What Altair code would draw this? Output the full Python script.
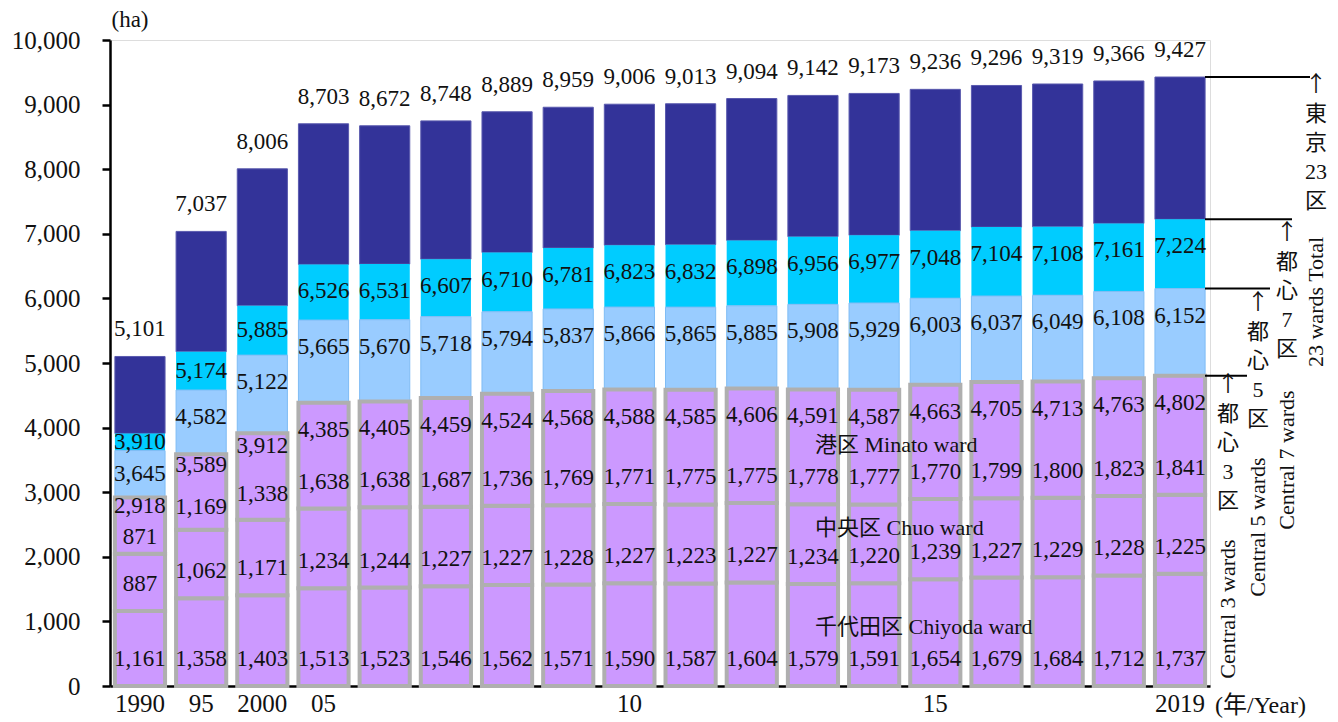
import altair as alt
import pandas as pd
import numpy as np

years = ["1990", "1995", "2000", "2005", "2006", "2007", "2008", "2009", "2010",
         "2011", "2012", "2013", "2014", "2015", "2016", "2017", "2018", "2019"]
tick_labels = ["1990", "95", "2000", "05", "", "", "", "", "10",
               "", "", "", "", "15", "", "", "", "2019"]
chiyoda = [1161, 1358, 1403, 1513, 1523, 1546, 1562, 1571, 1590, 1587, 1604, 1579, 1591, 1654, 1679, 1684, 1712, 1737]
chuo = [887, 1062, 1171, 1234, 1244, 1227, 1227, 1228, 1227, 1223, 1227, 1234, 1220, 1239, 1227, 1229, 1228, 1225]
minato = [871, 1169, 1338, 1638, 1638, 1687, 1736, 1769, 1771, 1775, 1775, 1778, 1777, 1770, 1799, 1800, 1823, 1841]
central3 = [2918, 3589, 3912, 4385, 4405, 4459, 4524, 4568, 4588, 4585, 4606, 4591, 4587, 4663, 4705, 4713, 4763, 4802]
central5 = [3645, 4582, 5122, 5665, 5670, 5718, 5794, 5837, 5866, 5865, 5885, 5908, 5929, 6003, 6037, 6049, 6108, 6152]
central7 = [3910, 5174, 5885, 6526, 6531, 6607, 6710, 6781, 6823, 6832, 6898, 6956, 6977, 7048, 7104, 7108, 7161, 7224]
total23 = [5101, 7037, 8006, 8703, 8672, 8748, 8889, 8959, 9006, 9013, 9094, 9142, 9173, 9236, 9296, 9319, 9366, 9427]

FONT = "Liberation Serif, Noto Sans CJK JP"
OFF = 418  # label inset in data units (~27px)

bar_rows = []
lab_rows = []
for i, yr in enumerate(years):
    b1 = chiyoda[i]
    b2 = chiyoda[i] + chuo[i]
    parts = [("chiyoda", 0, b1), ("chuo", b1, b2), ("minato", b2, central3[i]),
             ("c5", central3[i], central5[i]), ("c7", central5[i], central7[i]),
             ("t23", central7[i], total23[i])]
    for s, lo, hi in parts:
        bar_rows.append({"year": yr, "seg": s, "lo": lo, "hi": hi})
    big = minato[i] >= 1500
    m_off = OFF if big else 0.3 * minato[i]
    c3_off = OFF if big else 0.15 * minato[i]
    c5_off = min(OFF, 0.5 * (central5[i] - central3[i]))
    c7_off = min(OFF, 0.5 * (central7[i] - central5[i]))
    lab_rows += [
        {"year": yr, "pos": OFF, "val": chiyoda[i]},
        {"year": yr, "pos": b1 + OFF, "val": chuo[i]},
        {"year": yr, "pos": b2 + m_off, "val": minato[i]},
        {"year": yr, "pos": central3[i] - c3_off, "val": central3[i]},
        {"year": yr, "pos": central5[i] - c5_off, "val": central5[i]},
        {"year": yr, "pos": central7[i] - c7_off, "val": central7[i]},
    ]

bars_df = pd.DataFrame(bar_rows)
labs_df = pd.DataFrame(lab_rows)
tot_df = pd.DataFrame({"year": years, "val": total23})
one_df = pd.DataFrame({"k": [0]})

yr_list = ",".join("'%s'" % y for y in years)
tl_list = ",".join("'%s'" % t for t in tick_labels)
label_expr = "[%s][indexof([%s], datum.value)]" % (tl_list, yr_list)

xenc = alt.X("year:N", sort=years, title=None,
             scale=alt.Scale(paddingInner=0.18, paddingOuter=0.08),
             axis=alt.Axis(labelExpr=label_expr, labelAngle=0, ticks=False,
                           domainColor="#000000", domainWidth=2.5,
                           labelFont=FONT, labelFontSize=25, labelColor="#111111",
                           labelPadding=5))
yscale = alt.Scale(domain=[0, 10000], nice=False)
yaxis = alt.Axis(values=list(range(0, 10001, 1000)), format=",.0f", grid=False,
                 domainColor="#000000", domainWidth=2.5, tickColor="#000000",
                 tickWidth=2.5, tickSize=8, labelPadding=22,
                 labelFont=FONT, labelFontSize=25, labelColor="#111111")

def seg_layer(seg_names, fill, stroke, sw, with_axes=False):
    enc = dict(
        x=xenc if with_axes else alt.X("year:N", sort=years),
        y=alt.Y("lo:Q", scale=yscale, title=None, axis=yaxis) if with_axes
        else alt.Y("lo:Q", scale=yscale),
        y2="hi:Q",
    )
    kw = dict(fill=fill)
    if sw > 0:
        kw.update(stroke=stroke, strokeWidth=sw)
    return alt.Chart(bars_df).transform_filter(
        alt.FieldOneOfPredicate(field="seg", oneOf=seg_names)
    ).mark_bar(**kw).encode(**enc)

bars_dark = seg_layer(["t23"], "#333399", "#5a5aae", 1, with_axes=True)
bars_cyan = seg_layer(["c7"], "#00ccff", None, 0)
bars_lb = seg_layer(["c5"], "#99ccff", "#7fbcf5", 1)
bars_purple = seg_layer(["chiyoda", "chuo", "minato"], "#cc99ff", "#afafaf", 4)

labels = alt.Chart(labs_df).mark_text(font=FONT, fontSize=23, color="#111111",
                                      baseline="middle").encode(
    x=alt.X("year:N", sort=years),
    y=alt.Y("pos:Q", scale=yscale),
    text=alt.Text("val:Q", format=","),
)

tot_labels = alt.Chart(tot_df).mark_text(font=FONT, fontSize=23, color="#111111",
                                         baseline="middle", dy=-27).encode(
    x=alt.X("year:N", sort=years),
    y=alt.Y("val:Q", scale=yscale),
    text=alt.Text("val:Q", format=","),
)

# right-side bracket lines at the 2019 values
def rule(v, x2):
    return alt.Chart(one_df).mark_rule(color="#000000", strokeWidth=2).encode(
        x=alt.value(1095), x2=alt.value(x2), y=alt.datum(v, scale=yscale))

rules = [rule(total23[-1], 1200), rule(central7[-1], 1182),
         rule(central5[-1], 1160), rule(central3[-1], 1137)]

def note(text, x, y, font=FONT, **kw):
    return alt.Chart(one_df).mark_text(font=font, color="#111111", **kw).encode(
        x=alt.value(x), y=alt.value(y), text=alt.value(text))

def column(chars, x, top, eng, eng_y):
    return [
        note("↑", x, top, font="Noto Sans CJK JP", fontSize=22, align="center",
             baseline="top"),
        note(chars, x, top + 30, fontSize=22, align="center", baseline="top",
             lineHeight=29),
        note(eng, x, eng_y, fontSize=22, align="center", baseline="middle", angle=270),
    ]

notes = [
    note("(ha)", 20, -20, fontSize=23, align="center", baseline="middle"),
    note("(年/Year)", 1105, 666, fontSize=24, align="left", baseline="middle"),
    note("港区 Minato ward", 705, 405, fontSize=22, align="left", baseline="middle"),
    note("中央区 Chuo ward", 705, 488, fontSize=22, align="left", baseline="middle"),
    note("千代田区 Chiyoda ward", 705, 587, fontSize=22, align="left", baseline="middle"),
]
notes += column(["東", "京", "23", "区"], 1206, 34, "23 wards Total", 262)
notes += column(["都", "心", "7", "区"], 1177, 182, "Central 7 wards", 420)
notes += column(["都", "心", "5", "区"], 1148, 252, "Central 5 wards", 487)
notes += column(["都", "心", "3", "区"], 1118, 334, "Central 3 wards", 569)

chart = alt.layer(bars_dark, bars_cyan, bars_lb, bars_purple, labels, tot_labels,
                  *rules, *notes).properties(
    width=1100, height=646,
    autosize=alt.AutoSizeParams(type="none"),
    padding={"left": 102, "top": 32, "right": 120, "bottom": 34},
).configure_view(stroke=None).configure(background="white")

chart.save("out.html", embed_options={"renderer": "svg", "actions": False})
